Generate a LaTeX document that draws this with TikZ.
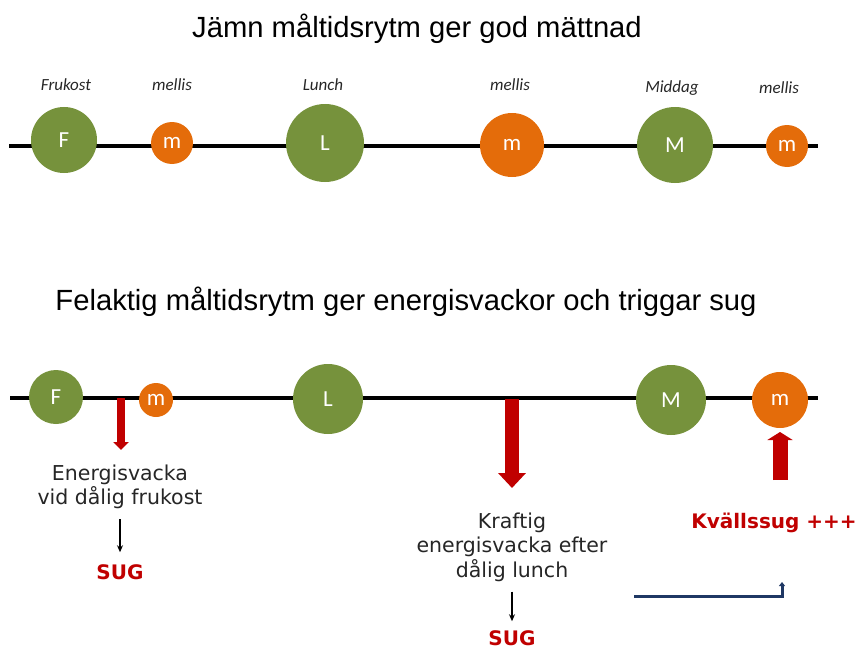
\documentclass[tikz,border=0pt]{standalone}
\usepackage{fontspec}
\setmainfont{DejaVu Sans}
\newfontfamily\titlefont{Liberation Sans}
\newfontfamily\calfont{Carlito}
\usetikzlibrary{arrows.meta}
\definecolor{mealgreen}{HTML}{76923C}
\definecolor{snackorange}{HTML}{E46C0A}
\definecolor{dipred}{HTML}{C00000}
\definecolor{navyline}{HTML}{1F3864}
\tikzset{
  meal/.style={circle, fill=mealgreen, text=white, inner sep=0pt, font=\calfont\fontsize{23pt}{23pt}\selectfont},
  snack/.style={circle, fill=snackorange, text=white, inner sep=0pt, font=\calfont\fontsize{23pt}{23pt}\selectfont},
  timeline/.style={line width=3.5pt, black},
  tag/.style={anchor=base, font=\calfont\itshape\fontsize{17pt}{17pt}\selectfont, text=black!85},
  heading/.style={anchor=base, font=\titlefont\fontsize{29.2pt}{29.2pt}\selectfont},
  note/.style={align=center, inner sep=0pt, font=\fontsize{20.5pt}{24.5pt}\selectfont, text=black!85},
  alert/.style={inner sep=0pt, text=dipred, font=\bfseries\fontsize{20pt}{20pt}\selectfont},
  thinarrow/.style={-{Stealth[length=7pt,width=6pt]}, line width=1.3pt},
}
\begin{document}
\begin{tikzpicture}[x=1pt, y=-1pt]%
\useasboundingbox (0,0) rectangle (861,650);%
\node[heading] (title1) at (417, 38) {Jämn måltidsrytm ger god mättnad};%
\coordinate (top-start) at (9, 146);%
\coordinate (top-end) at (818, 146);%
\draw[timeline] (top-start) -- (top-end);%
\node[meal, minimum size=66pt] (topF) at (64, 140) {F};%
\node[snack, minimum size=42pt] (topm1) at (172, 143) {m};%
\node[meal, minimum size=78pt] (topL) at (325, 143) {L};%
\node[snack, minimum size=64pt] (topm2) at (512, 145) {m};%
\node[meal, minimum size=76pt] (topM) at (675, 145) {M};%
\node[snack, minimum size=42pt] (topm3) at (787, 146) {m};%
\node[tag] (tagF) at (66, 91) {Frukost};%
\node[tag] (tagm1) at (172, 91) {mellis};%
\node[tag] (tagL) at (323, 91) {Lunch};%
\node[tag] (tagm2) at (510, 91) {mellis};%
\node[tag] (tagM) at (672, 93) {Middag};%
\node[tag] (tagm3) at (779, 94) {mellis};%
\node[heading] (title2) at (406, 310) {Felaktig måltidsrytm ger energisvackor och triggar sug};%
\coordinate (low-start) at (10, 398);%
\coordinate (low-end) at (818, 398);%
\draw[timeline] (low-start) -- (low-end);%
\node[meal, minimum size=54pt] (lowF) at (56, 397) {F};%
\node[snack, minimum size=34pt] (lowm1) at (156, 400) {m};%
\node[meal, minimum size=70pt] (lowL) at (328, 399) {L};%
\node[meal, minimum size=70pt] (lowM) at (671, 400) {M};%
\node[snack, minimum size=56pt] (lowm2) at (780, 400) {m};%
\coordinate (dip1top) at (121, 398);%
\coordinate (dip1tip) at (121, 450);%
\draw[dipred, line width=8pt, -{Triangle[width=15pt,length=8pt]}] (dip1top) -- (dip1tip);%
\node[note] (dip1text) at (120, 487) {Energisvacka\\vid dålig frukost};%
\node[alert] (sug1) at (120, 572) {SUG};%
\draw[thinarrow, shorten <=10pt, shorten >=12pt] (dip1text.south) -- (sug1.north);%
\coordinate (dip2top) at (512, 399);%
\coordinate (dip2tip) at (512, 488);%
\draw[dipred, line width=14pt, -{Triangle[width=27pt,length=15pt]}] (dip2top) -- (dip2tip);%
\node[note] (dip2text) at (512, 547) {Kraftig\\energisvacka efter\\dålig lunch};%
\node[alert] (sug2) at (512, 638) {SUG};%
\draw[thinarrow, shorten <=10pt, shorten >=9pt] (dip2text.south) -- (sug2.north);%
\coordinate (crave-base) at (780, 480);%
\coordinate (crave-tip) at (780, 432);%
\draw[dipred, line width=15pt, -{Triangle[width=25pt,length=8pt]}] (crave-base) -- (crave-tip);%
\node[alert] (crave) at (774, 523) {Kvällssug +++};%
\coordinate (bracket-start) at (634, 596);%
\coordinate (bracket-end) at (782, 582);%
\draw[navyline, line width=3pt, -{Triangle[width=6pt,length=4pt]}] (bracket-start) -| (bracket-end);%
\end{tikzpicture}
\end{document}
